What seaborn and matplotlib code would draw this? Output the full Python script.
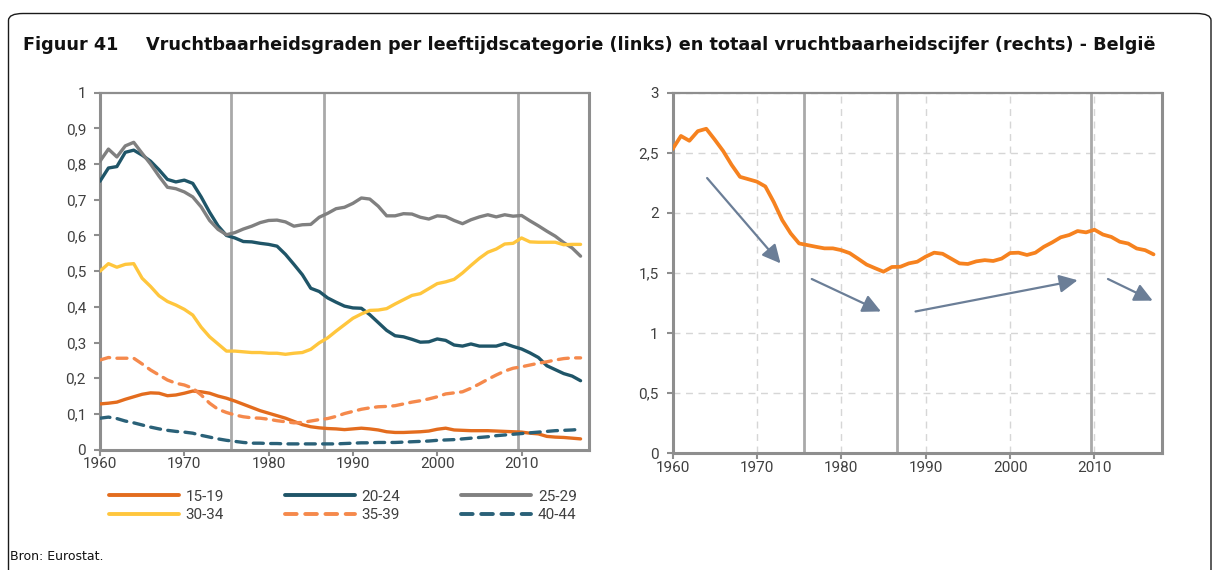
import numpy as np
import pandas as pd
import seaborn as sns
import matplotlib.pyplot as plt
from matplotlib.patches import FancyBboxPatch
from matplotlib.ticker import FuncFormatter, MultipleLocator
from matplotlib.lines import Line2D

# ---------------------------------------------------------------- data
years = list(range(1960, 2018))

age_15_19 = [0.128, 0.130, 0.133, 0.141, 0.148, 0.155, 0.159, 0.158, 0.151, 0.153,
             0.158, 0.164, 0.162, 0.158, 0.150, 0.144, 0.136, 0.127, 0.118, 0.109,
             0.102, 0.095, 0.088, 0.079, 0.070, 0.064, 0.061, 0.059, 0.058, 0.056,
             0.058, 0.060, 0.058, 0.055, 0.050, 0.048, 0.048, 0.049, 0.050, 0.052,
             0.057, 0.060, 0.055, 0.054, 0.053, 0.053, 0.053, 0.052, 0.051, 0.050,
             0.049, 0.046, 0.044, 0.037, 0.035, 0.034, 0.032, 0.030]

age_20_24 = [0.752, 0.789, 0.793, 0.833, 0.839, 0.825, 0.808, 0.784, 0.757, 0.750,
             0.755, 0.746, 0.708, 0.665, 0.627, 0.600, 0.593, 0.583, 0.582, 0.578,
             0.575, 0.570, 0.547, 0.519, 0.490, 0.452, 0.443, 0.425, 0.413, 0.402,
             0.397, 0.396, 0.378, 0.356, 0.334, 0.319, 0.316, 0.309, 0.301, 0.302,
             0.310, 0.306, 0.293, 0.290, 0.296, 0.290, 0.290, 0.290, 0.297, 0.289,
             0.282, 0.271, 0.258, 0.235, 0.224, 0.213, 0.206, 0.193]

age_25_29 = [0.808, 0.842, 0.820, 0.851, 0.861, 0.830, 0.800, 0.766, 0.735, 0.731,
             0.722, 0.708, 0.680, 0.642, 0.617, 0.602, 0.608, 0.618, 0.626, 0.636,
             0.642, 0.643, 0.638, 0.626, 0.630, 0.631, 0.651, 0.662, 0.675, 0.679,
             0.690, 0.705, 0.702, 0.682, 0.655, 0.655, 0.661, 0.660, 0.651, 0.646,
             0.655, 0.653, 0.642, 0.633, 0.644, 0.652, 0.658, 0.652, 0.658, 0.654,
             0.656, 0.641, 0.627, 0.612, 0.598, 0.580, 0.565, 0.542]

age_30_34 = [0.500, 0.521, 0.511, 0.519, 0.521, 0.480, 0.457, 0.431, 0.415, 0.405,
             0.393, 0.377, 0.343, 0.316, 0.296, 0.276, 0.276, 0.274, 0.272, 0.272,
             0.270, 0.270, 0.267, 0.270, 0.272, 0.281, 0.299, 0.313, 0.332, 0.350,
             0.368, 0.380, 0.390, 0.391, 0.395, 0.408, 0.420, 0.432, 0.437, 0.451,
             0.465, 0.470, 0.477, 0.495, 0.516, 0.536, 0.553, 0.562, 0.576, 0.578,
             0.593, 0.582, 0.581, 0.581, 0.581, 0.574, 0.575, 0.575]

age_35_39 = [0.251, 0.258, 0.256, 0.256, 0.256, 0.240, 0.223, 0.209, 0.195, 0.186,
             0.181, 0.172, 0.153, 0.130, 0.113, 0.104, 0.097, 0.092, 0.089, 0.088,
             0.085, 0.081, 0.078, 0.075, 0.076, 0.080, 0.084, 0.087, 0.093, 0.101,
             0.107, 0.113, 0.117, 0.120, 0.121, 0.123, 0.128, 0.133, 0.137, 0.142,
             0.148, 0.156, 0.159, 0.162, 0.172, 0.184, 0.197, 0.209, 0.220, 0.228,
             0.232, 0.237, 0.242, 0.246, 0.251, 0.255, 0.257, 0.257]

age_40_44 = [0.088, 0.091, 0.087, 0.080, 0.075, 0.069, 0.063, 0.058, 0.054, 0.051,
             0.049, 0.046, 0.040, 0.035, 0.030, 0.026, 0.023, 0.020, 0.018, 0.018,
             0.017, 0.017, 0.016, 0.016, 0.016, 0.016, 0.016, 0.016, 0.016, 0.017,
             0.018, 0.019, 0.019, 0.020, 0.020, 0.020, 0.021, 0.022, 0.023, 0.024,
             0.026, 0.027, 0.028, 0.030, 0.032, 0.034, 0.036, 0.039, 0.041, 0.043,
             0.045, 0.047, 0.049, 0.051, 0.053, 0.054, 0.055, 0.057]

tfr = [2.53, 2.64, 2.60, 2.68, 2.70, 2.61, 2.515, 2.40, 2.30, 2.28,
       2.26, 2.22, 2.09, 1.94, 1.83, 1.746, 1.732, 1.718, 1.705, 1.705,
       1.69, 1.665, 1.618, 1.57, 1.54, 1.511, 1.55, 1.552, 1.58, 1.594,
       1.636, 1.669, 1.66, 1.62, 1.58, 1.575, 1.597, 1.607, 1.60, 1.62,
       1.666, 1.669, 1.65, 1.669, 1.718, 1.755, 1.797, 1.816, 1.849, 1.838,
       1.86, 1.82, 1.80, 1.76, 1.745, 1.704, 1.69, 1.655]

age_labels = ["15-19", "20-24", "25-29", "30-34", "35-39", "40-44"]
age_series = [age_15_19, age_20_24, age_25_29, age_30_34, age_35_39, age_40_44]

# break years marked by vertical lines in both panels
break_years = [1975.55, 1986.55, 2009.55]

# trend arrows on the right panel: (x0, y0, x1, y1)
trend_arrows = [(1964.1, 2.29, 1972.8, 1.58),
                (1976.5, 1.45, 1984.7, 1.18),
                (1988.8, 1.18, 2008.0, 1.44),
                (2011.6, 1.45, 2016.9, 1.27)]

x_ticks = [1960, 1970, 1980, 1990, 2000, 2010]

# ---------------------------------------------------------------- style
sns.set_style("white")
plt.rcParams["font.family"] = ["Roboto", "DejaVu Sans"]

colors = {
    "15-19": "#E36C1E",
    "20-24": "#1F5568",
    "25-29": "#808080",
    "30-34": "#FFC63D",
    "35-39": "#F5894C",
    "40-44": "#2A6178",
}
dashed = {"35-39", "40-44"}
LW = 2.4
spine_col = "#8E8E8E"
tick_col = "#404040"

fig = plt.figure(figsize=(12.14, 5.70), dpi=100)

# rounded frame around the whole figure
frame = FancyBboxPatch((8.5 / 1214, -0.2), (1211 - 8.5) / 1214, 1.2 - 13.5 / 570,
                       boxstyle="round,pad=0,rounding_size=0.012",
                       transform=fig.transFigure, fill=False,
                       edgecolor="#1a1a1a", linewidth=1.0, zorder=0)
fig.patches.append(frame)

fig.text(23 / 1214, 1 - 45 / 570, "Figuur 41", fontsize=12.7, fontweight="bold",
         family="DejaVu Sans", va="center", ha="left", color="#111111")
fig.text(146 / 1214, 1 - 45 / 570,
         "Vruchtbaarheidsgraden per leeftijdscategorie (links) en totaal "
         "vruchtbaarheidscijfer (rechts) - België",
         fontsize=12.7, fontweight="bold", family="DejaVu Sans",
         va="center", ha="left", color="#111111")
fig.text(10 / 1214, 1 - 557 / 570, "Bron: Eurostat.", fontsize=9,
         family="DejaVu Sans", va="center", ha="left", color="#111111")

comma = FuncFormatter(lambda v, p: f"{round(v, 2):g}".replace(".", ","))


def style_axes(ax):
    for side in ["left", "bottom", "top", "right"]:
        ax.spines[side].set_visible(True)
        ax.spines[side].set_color(spine_col)
    ax.spines["left"].set_linewidth(2.2)
    ax.spines["bottom"].set_linewidth(2.2)
    ax.spines["top"].set_linewidth(1.6)
    ax.spines["right"].set_linewidth(2.2)
    ax.tick_params(axis="both", which="major", direction="out", length=4,
                   width=1.5, color=spine_col, labelcolor=tick_col,
                   labelsize=11, left=True, bottom=True)
    ax.tick_params(axis="y", pad=6)
    ax.tick_params(axis="x", pad=1.5)
    ax.set_xlim(1960, 2018)
    ax.set_xticks(x_ticks)
    ax.yaxis.set_major_formatter(comma)
    ax.set_xlabel("")
    ax.set_ylabel("")
    for yr in break_years:
        ax.axvline(yr, color="#A9A9A9", lw=2.0, zorder=1)


# ---------------------------------------------------------------- left panel
axL = fig.add_axes([100 / 1214, 1 - 449.6 / 570, 489 / 1214, 356.9 / 570])
handles = {}
for lab, vals in zip(age_labels, age_series):
    ls = (0, (3.0, 2.2)) if lab in dashed else "-"
    sns.lineplot(x=years, y=vals, ax=axL, color=colors[lab], lw=LW,
                 linestyle=ls, zorder=3)
    axL.lines[-1].set_solid_capstyle("round")
    axL.lines[-1].set_dash_capstyle("round")
    handles[lab] = Line2D([], [], color=colors[lab], lw=LW + 0.4, linestyle=ls,
                          solid_capstyle="round", dash_capstyle="round")
axL.set_ylim(0, 1)
axL.yaxis.set_major_locator(MultipleLocator(0.1))
style_axes(axL)

order = ["15-19", "30-34", "20-24", "35-39", "25-29", "40-44"]
fig.legend([handles[k] for k in order], order, ncol=3, frameon=False,
           loc="upper left", bbox_to_anchor=(101 / 1214, 1 - 482 / 570),
           fontsize=11, handlelength=4.6, handletextpad=0.45,
           columnspacing=3.95, labelspacing=0.3, borderpad=0,
           labelcolor=tick_col)

# ---------------------------------------------------------------- right panel
axR = fig.add_axes([672.5 / 1214, 1 - 453.3 / 570, 489.5 / 1214, 360.6 / 570])
sns.lineplot(x=years, y=tfr, ax=axR, color="#F6821F", lw=LW + 0.3, zorder=3)
axR.lines[-1].set_solid_capstyle("round")
axR.set_ylim(0, 3)
axR.yaxis.set_major_locator(MultipleLocator(0.5))
axR.grid(True, which="major", axis="both", color="#D6D6D6", lw=1.0,
         linestyle=(0, (5, 4)))
axR.set_axisbelow(True)
style_axes(axR)

for x0, y0, x1, y1 in trend_arrows:
    axR.annotate("", xy=(x1, y1), xytext=(x0, y0),
                 arrowprops=dict(arrowstyle="-|>,head_length=0.85,head_width=0.42",
                                 color="#6B7E97", lw=1.6, shrinkA=0, shrinkB=0,
                                 mutation_scale=13), zorder=4)

fig.savefig("out.png", dpi=100)
